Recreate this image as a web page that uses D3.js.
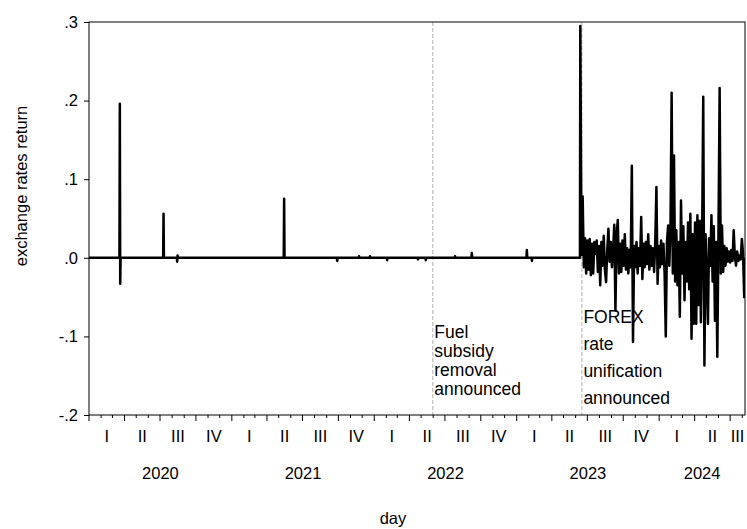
<!DOCTYPE html>
<html>
<head>
<meta charset="utf-8">
<script src="https://cdn.jsdelivr.net/npm/d3@7"></script>
<style>
  html, body { margin: 0; padding: 0; background: #fff; }
  svg { display: block; }
  text { font-family: "Liberation Sans", Arial, sans-serif; fill: #000; }
</style>
</head>
<body>
<svg id="chart" width="747" height="529"></svg>
<script>
// ---------------- DATA ----------------
// Quiet period (mostly zero returns with occasional spikes)
const quietDates = [
  "2020-01-01","2020-03-19","2020-03-20","2020-03-21","2020-03-22",
  "2020-07-09","2020-07-10","2020-07-11",
  "2020-08-13","2020-08-14","2020-08-15","2020-08-16",
  "2021-05-14","2021-05-15","2021-05-16",
  "2021-09-27","2021-09-28","2021-09-29",
  "2021-11-22","2021-11-23","2021-11-24",
  "2021-12-20","2021-12-21","2021-12-22",
  "2022-02-02","2022-02-03","2022-02-04",
  "2022-04-22","2022-04-23","2022-04-24",
  "2022-05-12","2022-05-13","2022-05-14",
  "2022-07-26","2022-07-27","2022-07-28",
  "2022-09-07","2022-09-08","2022-09-09",
  "2023-01-26","2023-01-27","2023-01-28",
  "2023-02-08","2023-02-09","2023-02-10",
  "2023-06-12"
];
const quietValues = [
  0, 0, 0.196, -0.033, 0,
  0, 0.056, 0,
  0, -0.005, 0.003, 0,
  0, 0.075, 0,
  0, -0.004, 0,
  0, 0.002, 0,
  0, 0.002, 0,
  0, -0.003, 0,
  0, -0.002, 0,
  0, -0.003, 0,
  0, 0.002, 0,
  0, 0.006, 0,
  0, 0.010, 0,
  0, -0.004, 0,
  0
];
// Volatile period after FOREX unification, read every 3 days from 2023-06-13
const volStart = "2023-06-13";
const volStepDays = 3;
const volValues = [
  0.295, 0.004, 0.078, -0.012, 0.025, -0.020, 0.022, -0.015, 0.024, -0.022,
  0.018, -0.020, 0.020, 0.005, 0.022, -0.018, 0.015, -0.035, 0.020, -0.010,
  0.028, -0.015, -0.031, 0.010, 0.037, -0.005, 0.020, -0.012, 0.010, 0.042,
  -0.067, 0.030, 0.048, -0.020, 0.018, -0.018, 0.022, -0.010, 0.030, -0.015,
  0.012, -0.020, 0.010, -0.012, 0.117, -0.107, 0.015, -0.012, 0.020, -0.020,
  0.012, -0.010, 0.052, -0.027, 0.018, -0.012, 0.020, -0.008, 0.030, -0.015,
  0.015, -0.010, 0.012, -0.018, 0.020, 0.090, -0.033, 0.015, -0.012, 0.022,
  -0.008, 0.018, -0.020, -0.100, 0.020, 0.041, -0.010, 0.035, 0.210, -0.020,
  0.130, -0.030, 0.035, -0.035, 0.020, -0.075, 0.073, -0.020, 0.040, -0.054,
  0.020, -0.030, 0.045, -0.040, 0.056, -0.103, 0.030, -0.084, 0.045, -0.084,
  0.054, -0.060, 0.047, -0.082, 0.020, 0.205, -0.137, 0.030, -0.020, -0.084,
  0.025, -0.010, 0.054, -0.030, 0.040, -0.080, 0.020, -0.126, 0.030, 0.216,
  -0.020, 0.041, -0.018, 0.015, -0.010, 0.012, -0.005, 0.008, -0.006, 0.010,
  -0.004, 0.035, 0.002, -0.010, 0.008, -0.004, 0.003, -0.002, 0.024, 0.005,
  -0.050, 0.000
];
const domainStart = "2020-01-01";
const domainEnd = "2024-08-08";
const yTicks = [0.3, 0.2, 0.1, 0.0, -0.1, -0.2];
const yTickLabels = [".3", ".2", ".1", ".0", "-.1", "-.2"];
const quarterLabels = ["I", "II", "III", "IV"];
const years = [2020, 2021, 2022, 2023, 2024];
const eventDates = ["2022-05-31", "2023-06-17"];
const eventText = [
  ["Fuel", "subsidy", "removal", "announced"],
  ["FOREX", "rate", "unification", "announced"]
];
const xTitle = "day";
const yTitle = "exchange rates return";

// ---------------- CHART ----------------
const parse = d3.utcParse("%Y-%m-%d");
const svg = d3.select("#chart");
const L = 89, R = 745, T = 22, B = 415;

const x = d3.scaleUtc().domain([parse(domainStart), parse(domainEnd)]).range([L, R]);
const y = d3.scaleLinear().domain([-0.2, 0.3]).range([B, T]);

const series = quietDates.map((d, i) => ({ date: parse(d), value: quietValues[i] }));
const vs = parse(volStart);
volValues.forEach((v, i) => series.push({ date: d3.utcDay.offset(vs, i * volStepDays), value: v }));

svg.append("defs").append("clipPath").attr("id", "clip")
  .append("rect").attr("x", L).attr("y", T - 2).attr("width", R - L).attr("height", B - T + 4);

// event dashed lines
svg.append("g").selectAll("line").data(eventDates).join("line")
  .attr("x1", d => x(parse(d))).attr("x2", d => x(parse(d)))
  .attr("y1", T).attr("y2", B)
  .attr("stroke", "#b0b0b0").attr("stroke-width", 1).attr("stroke-dasharray", "4,2");

// series line
svg.append("path").datum(series)
  .attr("clip-path", "url(#clip)")
  .attr("fill", "none").attr("stroke", "#000").attr("stroke-width", 2.5)
  .attr("stroke-linejoin", "round")
  .attr("d", d3.line().x(d => x(d.date)).y(d => y(d.value)));

// frame
svg.append("rect").attr("x", L).attr("y", T).attr("width", R - L).attr("height", B - T)
  .attr("fill", "none").attr("stroke", "#000").attr("stroke-width", 1);

// y axis
const yAxis = svg.append("g").attr("transform", `translate(${L},0)`)
  .call(d3.axisLeft(y).tickValues(yTicks).tickSize(5).tickPadding(6)
    .tickFormat((d, i) => yTickLabels[i]));
yAxis.select(".domain").remove();
yAxis.selectAll("line").attr("stroke", "#000");
yAxis.selectAll("text").attr("font-size", 16.5).attr("font-family", "Liberation Sans, Arial, sans-serif");

// x axis: monthly minor ticks, quarterly major ticks
const months = d3.utcMonth.range(parse(domainStart), x.domain()[1]);
const xg = svg.append("g");
xg.selectAll("line").data(months).join("line")
  .attr("x1", d => x(d)).attr("x2", d => x(d))
  .attr("y1", B).attr("y2", d => B + (d.getUTCMonth() % 3 === 0 ? 6 : 3))
  .attr("stroke", "#000").attr("stroke-width", 1);

// quarter labels centred on the visible part of each quarter
const quarters = d3.utcMonth.every(3).range(parse(domainStart), x.domain()[1]);
const [d0, d1] = x.domain();
xg.selectAll("text.q").data(quarters).join("text").attr("class", "q")
  .attr("x", d => {
    const s = d < d0 ? d0 : d;
    const e0 = d3.utcMonth.offset(d, 3);
    const e = e0 > d1 ? d1 : e0;
    return (x(s) + x(e)) / 2;
  })
  .attr("y", 442).attr("text-anchor", "middle").attr("font-size", 16.5)
  .text(d => quarterLabels[Math.floor(d.getUTCMonth() / 3)]);

xg.selectAll("text.yr").data(years).join("text").attr("class", "yr")
  .attr("x", d => {
    const s = parse(d + "-01-01");
    const e0 = parse((d + 1) + "-01-01");
    const e = e0 > d1 ? d1 : e0;
    return (x(s) + x(e)) / 2;
  })
  .attr("y", 479).attr("text-anchor", "middle").attr("font-size", 16.5)
  .text(d => d);

// axis titles
svg.append("text").attr("x", 393).attr("y", 524).attr("text-anchor", "middle")
  .attr("font-size", 16.5).text(xTitle);
svg.append("text").attr("transform", "translate(27,186) rotate(-90)")
  .attr("text-anchor", "middle").attr("font-size", 16.5).text(yTitle);

// annotations
const annFirstBaseline = [338, 323];
const annSpacing = [19, 27];
eventDates.forEach((d, k) => {
  svg.append("g").selectAll("text").data(eventText[k]).join("text")
    .attr("x", x(parse(d)) + 1.5)
    .attr("y", (t, i) => annFirstBaseline[k] + i * annSpacing[k])
    .attr("font-size", 17.5).text(t => t);
});
</script>
</body>
</html>
